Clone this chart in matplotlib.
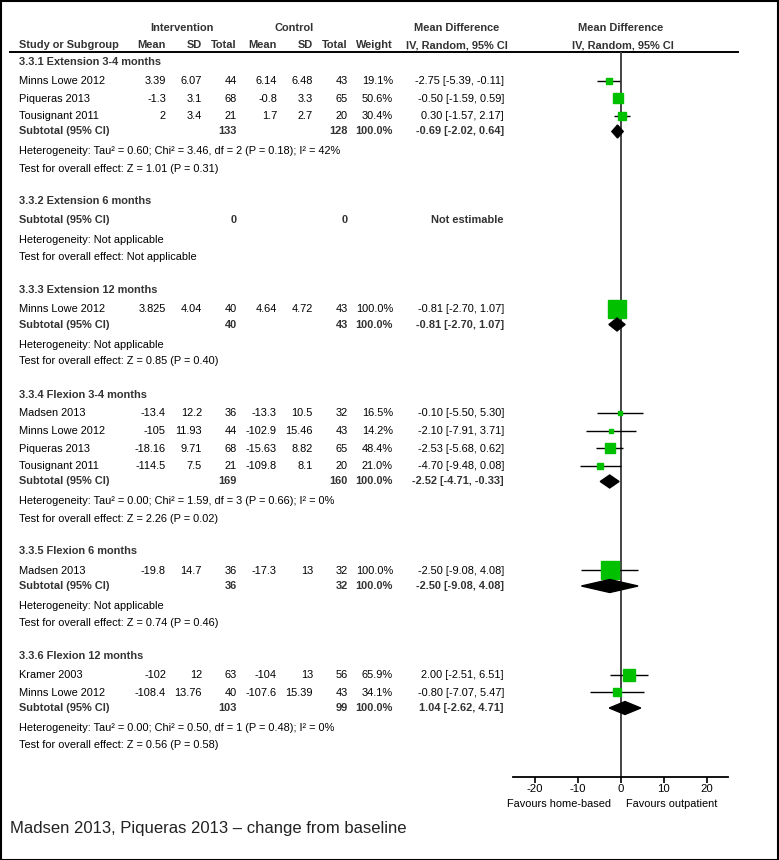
import matplotlib

matplotlib.use("Agg")
import matplotlib.pyplot as plt
from matplotlib.patches import Polygon, Rectangle

plt.rcParams["font.family"] = ["Liberation Sans", "DejaVu Sans"]
plt.rcParams["axes.unicode_minus"] = False

# ---- data -------------------------------------------------------------
sections = [
    "3.3.1 Extension 3-4 months",
    "3.3.2 Extension 6 months",
    "3.3.3 Extension 12 months",
    "3.3.4 Flexion 3-4 months",
    "3.3.5 Flexion 6 months",
    "3.3.6 Flexion 12 months",
]

study_section = [0, 0, 0, 2, 3, 3, 3, 3, 4, 5, 5]
study_names = ["Minns Lowe 2012", "Piqueras 2013", "Tousignant 2011", "Minns Lowe 2012",
               "Madsen 2013", "Minns Lowe 2012", "Piqueras 2013", "Tousignant 2011",
               "Madsen 2013", "Kramer 2003", "Minns Lowe 2012"]
int_mean = [3.39, -1.3, 2, 3.825, -13.4, -105, -18.16, -114.5, -19.8, -102, -108.4]
int_sd = [6.07, 3.1, 3.4, 4.04, 12.2, 11.93, 9.71, 7.5, 14.7, 12, 13.76]
int_n = [44, 68, 21, 40, 36, 44, 68, 21, 36, 63, 40]
ctl_mean = [6.14, -0.8, 1.7, 4.64, -13.3, -102.9, -15.63, -109.8, -17.3, -104, -107.6]
ctl_sd = [6.48, 3.3, 2.7, 4.72, 10.5, 15.46, 8.82, 8.1, 13, 13, 15.39]
ctl_n = [43, 65, 20, 43, 32, 43, 65, 20, 32, 56, 43]
weights = [19.1, 50.6, 30.4, 100.0, 16.5, 14.2, 48.4, 21.0, 100.0, 65.9, 34.1]
md = [-2.75, -0.50, 0.30, -0.81, -0.10, -2.10, -2.53, -4.70, -2.50, 2.00, -0.80]
ci_lo = [-5.39, -1.59, -1.57, -2.70, -5.50, -7.91, -5.68, -9.48, -9.08, -2.51, -7.07]
ci_hi = [-0.11, 0.59, 2.17, 1.07, 5.30, 3.71, 0.62, 0.08, 4.08, 6.51, 5.47]

sub_int_n = [133, 0, 40, 169, 36, 103]
sub_ctl_n = [128, 0, 43, 160, 32, 99]
sub_md = [-0.69, None, -0.81, -2.52, -2.50, 1.04]
sub_lo = [-2.02, None, -2.70, -4.71, -9.08, -2.62]
sub_hi = [0.64, None, 1.07, -0.33, 4.08, 4.71]

heterogeneity = [
    "Heterogeneity: Tau² = 0.60; Chi² = 3.46, df = 2 (P = 0.18); I² = 42%",
    "Heterogeneity: Not applicable",
    "Heterogeneity: Not applicable",
    "Heterogeneity: Tau² = 0.00; Chi² = 1.59, df = 3 (P = 0.66); I² = 0%",
    "Heterogeneity: Not applicable",
    "Heterogeneity: Tau² = 0.00; Chi² = 0.50, df = 1 (P = 0.48); I² = 0%",
]
overall = [
    "Test for overall effect: Z = 1.01 (P = 0.31)",
    "Test for overall effect: Not applicable",
    "Test for overall effect: Z = 0.85 (P = 0.40)",
    "Test for overall effect: Z = 2.26 (P = 0.02)",
    "Test for overall effect: Z = 0.74 (P = 0.46)",
    "Test for overall effect: Z = 0.56 (P = 0.58)",
]

xticks = [-20, -10, 0, 10, 20]
caption = "Madsen 2013, Piqueras 2013 \u2013 change from baseline"

# ---- figure, pixel coordinates ----------------------------------------
W, H = 779, 860
fig = plt.figure(figsize=(W / 100, H / 100), dpi=100)
ax = fig.add_axes([0, 0, 1, 1])
ax.set_xlim(0, W)
ax.set_ylim(H, 0)
ax.axis("off")

TOP, AXIS_Y = 52, 777
X0, X1 = 513, 728
fa = fig.add_axes([X0 / W, (H - AXIS_Y) / H, (X1 - X0) / W, (AXIS_Y - TOP) / H])
fa.set_xlim(-25, 25)
fa.set_ylim(AXIS_Y, TOP)
fa.patch.set_alpha(0)
for s in ["top", "left", "right"]:
    fa.spines[s].set_visible(False)
fa.spines["bottom"].set_linewidth(1.3)
fa.set_yticks([])
fa.set_xticks(xticks)
fa.tick_params(axis="x", direction="out", length=4, width=1.2, labelsize=8.2, pad=1)
fa.axvline(0, color="#444444", lw=1.4, zorder=1)

FS = 7.9
DARK = "#333333"
cols_right = [166, 202, 237, 277, 313, 348, 393]
MD_X = 504


def txt(x, y, s, ha="left", bold=False, **kw):
    ax.text(x, y, s, ha=ha, va="center", fontsize=kw.pop("fontsize", FS),
            fontweight="bold" if bold else "normal",
            color=DARK if bold else "black", **kw)


# headers
txt(182, 28, "Intervention", ha="center", bold=True)
txt(294, 28, "Control", ha="center", bold=True)
txt(457, 28, "Mean Difference", ha="center", bold=True)
txt(621, 28, "Mean Difference", ha="center", bold=True)
txt(19, 45, "Study or Subgroup", bold=True)
for x, s in zip(cols_right, ["Mean", "SD", "Total", "Mean", "SD", "Total", "Weight"]):
    txt(x, 45, s, ha="right", bold=True)
txt(457, 45, "IV, Random, 95% CI", ha="center", bold=True)
txt(623, 45, "IV, Random, 95% CI", ha="center", bold=True)
ax.plot([10, 738], [TOP, TOP], color="black", lw=1.4)

green = "#00c000"
y = 62
for k, title in enumerate(sections):
    txt(19, y, title, bold=True)
    idx = [i for i, s in enumerate(study_section) if s == k]
    if idx:
        y += 19
        for j, i in enumerate(idx):
            if j:
                y += 17.5
            vals = [f"{int_mean[i]:g}", f"{int_sd[i]:g}", str(int_n[i]),
                    f"{ctl_mean[i]:g}", f"{ctl_sd[i]:g}", str(ctl_n[i]), f"{weights[i]:.1f}%"]
            txt(19, y, study_names[i])
            for x, s in zip(cols_right, vals):
                txt(x, y, s, ha="right")
            txt(MD_X, y, f"{md[i]:.2f} [{ci_lo[i]:.2f}, {ci_hi[i]:.2f}]", ha="right")
            fa.hlines(y, ci_lo[i], ci_hi[i], color="black", lw=1.0, zorder=2)
            side = (2.5 + 15 * weights[i] / 100) * 0.72
            fa.plot(md[i], y, marker="s", ms=side, color=green, mec=green, zorder=3)
        y += 15.5
    else:
        y += 18.5
    txt(19, y, "Subtotal (95% CI)", bold=True)
    txt(cols_right[2], y, str(sub_int_n[k]), ha="right", bold=True)
    txt(cols_right[5], y, str(sub_ctl_n[k]), ha="right", bold=True)
    if sub_md[k] is None:
        txt(MD_X, y, "Not estimable", ha="right", bold=True)
    else:
        txt(cols_right[6], y, "100.0%", ha="right", bold=True)
        txt(MD_X, y, f"{sub_md[k]:.2f} [{sub_lo[k]:.2f}, {sub_hi[k]:.2f}]", ha="right", bold=True)
        h = 6.5
        fa.add_patch(Polygon([(sub_lo[k], y), (sub_md[k], y - h), (sub_hi[k], y), (sub_md[k], y + h)],
                             closed=True, color="black", zorder=4))
    y += 20
    txt(19, y, heterogeneity[k])
    y += 17
    txt(19, y, overall[k])
    y += 33

txt(611, 804, "Favours home-based", ha="right")
txt(626, 804, "Favours outpatient")
ax.text(10, 829, caption, ha="left", va="center", fontsize=12, color="#222222")

fig.add_artist(Rectangle((0.5 / W, 0.5 / H), 1 - 1.5 / W, 1 - 1.5 / H, transform=fig.transFigure,
                         fill=False, edgecolor="black", lw=1.5))

fig.savefig("out.png", dpi=100)
plt.close(fig)
